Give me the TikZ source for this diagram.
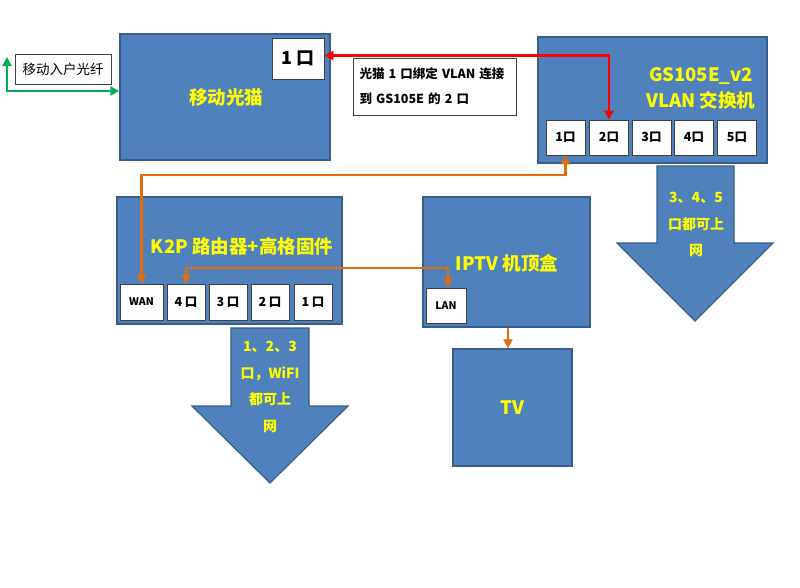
\documentclass[tikz,border=0pt]{standalone}
\usepackage{fontspec}
\setmainfont{Noto Sans CJK SC}
\usetikzlibrary{arrows.meta}
\definecolor{boxfill}{HTML}{4F81BD}
\definecolor{boxline}{HTML}{385D8A}
\definecolor{ylw}{HTML}{FFFF00}
\definecolor{org}{HTML}{E46C0A}
\definecolor{grn}{HTML}{00B050}
\tikzset{
  dev/.style={draw=boxline,fill=boxfill,line width=1.5pt,inner sep=0pt},
  port/.style={draw=black!75,fill=white,line width=0.8pt,inner sep=0pt,minimum height=35pt,font=\bfseries\fontsize{12.5}{14}\selectfont},
  ylab/.style={text=ylw,font=\bfseries\fontsize{18.5}{26}\selectfont,align=center},
  bigarrow/.style={draw=boxline,fill=boxfill,line width=1.2pt,line join=miter},
  arrtext/.style={text=ylw,font=\bfseries\fontsize{14}{26.5}\selectfont,align=center},
  conn/.style={line width=2.8pt,{Stealth[length=9pt,width=9pt,inset=0pt]}-{Stealth[length=9pt,width=9pt,inset=0pt]}},
  onearrow/.style={line width=2.8pt,-{Stealth[length=9pt,width=9pt,inset=0pt]}},
  note/.style={draw=black!75,fill=white,line width=0.8pt,inner sep=0pt}
}
\begin{document}
\begin{tikzpicture}[x=1pt,y=-1pt]
\useasboundingbox (0,0) rectangle (800,587);
% devices
\node[dev,minimum width=210pt,minimum height=126pt] (modem) at (225,97) {};
\node[ylab] (modemlab) at (226,98) {移动光猫};
\node[port,minimum width=52pt,minimum height=41pt,font=\bfseries\fontsize{18}{20}\selectfont] (mp1) at (298,58.5) {1 口};
\node[note,minimum width=96pt,minimum height=30pt,font=\fontsize{13.5}{15}\selectfont] (fiber) at (63,69) {移动入户光纤};
\node[note,minimum width=163pt,minimum height=57pt,align=left,font=\bfseries\fontsize{12.5}{25}\selectfont,text width=150pt] (note) at (434.5,86.5) {光猫 1 口绑定 VLAN 连接\\到 GS105E 的 2 口};

\node[dev,minimum width=229pt,minimum height=126pt] (sw) at (652.5,100) {};
\node[ylab] (swlab) at (701,88) {GS105E\_v2\\VLAN 交换机};
\node[port,minimum width=39pt] (s1) at (565.5,137.5) {1口};
\node[port,minimum width=39pt] (s2) at (609,137.5) {2口};
\node[port,minimum width=39pt] (s3) at (651.5,137.5) {3口};
\node[port,minimum width=39pt] (s4) at (694,137.5) {4口};
\node[port,minimum width=39pt] (s5) at (737,137.5) {5口};

\node[dev,minimum width=225pt,minimum height=127pt] (router) at (229.5,260.5) {};
\node[ylab] (routerlab) at (242,246) {K2P 路由器+高格固件};
\node[port,minimum width=43pt,minimum height=36pt,font=\bfseries\fontsize{10.5}{12}\selectfont] (wan) at (141.5,302) {WAN};
\node[port,minimum width=38pt,minimum height=36pt] (r4) at (186,302) {4 口};
\node[port,minimum width=38pt,minimum height=36pt] (r3) at (228,302) {3 口};
\node[port,minimum width=38pt,minimum height=36pt] (r2) at (270,302) {2 口};
\node[port,minimum width=38pt,minimum height=36pt] (r1) at (313,302) {1 口};

\node[dev,minimum width=167pt,minimum height=130pt] (iptv) at (506.5,262) {};
\node[ylab] (iptvlab) at (507,263) {IPTV 机顶盒};
\node[port,minimum width=40pt,font=\bfseries\fontsize{10.5}{12}\selectfont] (lan) at (446,305.5) {LAN};

\node[dev,minimum width=119pt,minimum height=117pt] (tv) at (512.5,407.5) {};
\node[ylab] (tvlab) at (512.5,408) {TV};

% big arrows
\draw[bigarrow] (231,328) -- (309,328) -- (309,406) -- (348,406) -- (270,483) -- (192,406) -- (231,406) -- cycle;
\node[arrtext] (rtext) at (270,387) {1、2、3\\口，WiFI\\都可上\\网};
\draw[bigarrow] (657,166) -- (734,166) -- (734,243) -- (773,243) -- (695,321) -- (617,243) -- (657,243) -- cycle;
\node[arrtext] (stext) at (696,224.5) {3、4、5\\口都可上\\网};

% connectors
\coordinate (gtop) at (7,57);
\draw[grn,conn] (gtop) |- ([yshift=6pt]modem.west);
\draw[red,conn] ([yshift=3pt]mp1.east) -| (s2.north);
\draw[org,conn] (s1.south) -- (s1.south |- 0,175) -- (wan.north |- 0,175) -- (wan.north);
\draw[org,conn] (r4.north) -- (r4.north |- 0,268) -- ([xshift=2pt]lan.north |- 0,268) -- ([xshift=2pt]lan.north);
\draw[org,onearrow] ([xshift=1.5pt]iptv.south) -- ([xshift=1.5pt]iptv.south |- tv.north);
\end{tikzpicture}
\end{document}
